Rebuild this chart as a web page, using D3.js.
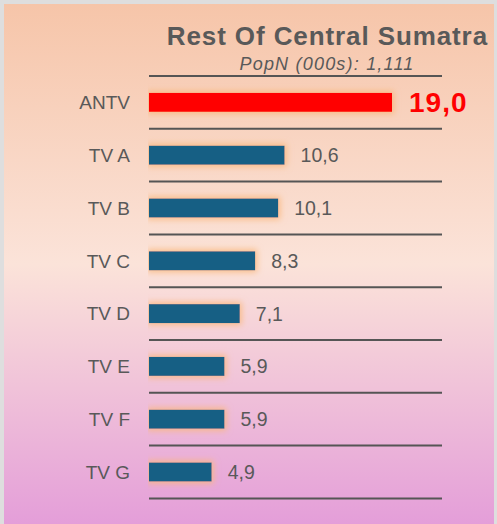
<!DOCTYPE html>
<html>
<head>
<meta charset="utf-8">
<script src="https://cdn.jsdelivr.net/npm/d3@7"></script>
<style>
  body { margin: 0; padding: 0; background: #fff; }
  svg { display: block; }
</style>
</head>
<body>
<div id="chart"></div>
<script>
// data
const categories = ["ANTV", "TV A", "TV B", "TV C", "TV D", "TV E", "TV F", "TV G"];
const values = [19.0, 10.6, 10.1, 8.3, 7.1, 5.9, 5.9, 4.9];
const highlight = "ANTV";
const title = "Rest Of Central Sumatra";
const subtitle = "PopN (000s): 1,111";

const data = categories.map((c, i) => ({ name: c, value: values[i] }));

// size
const width = 497;
const height = 524;
const plot = { left: 149, right: 442, top: 76, bottom: 498.4 };
const fmt = (v) => v.toFixed(1).replace(".", ",");
const textColor = "#595959";
const font = "'Liberation Sans', Arial, sans-serif";

const svg = d3.select("#chart").append("svg")
  .attr("width", width)
  .attr("height", height);

const defs = svg.append("defs");

// background gradient
const grad = defs.append("linearGradient")
  .attr("id", "bg")
  .attr("x1", 0).attr("y1", 0).attr("x2", 0).attr("y2", 1);
grad.append("stop").attr("offset", "0%").attr("stop-color", "#f6c5a9");
grad.append("stop").attr("offset", "50%").attr("stop-color", "#fbe3d9");
grad.append("stop").attr("offset", "100%").attr("stop-color", "#e49ed9");

// glow around bars
const glow = defs.append("filter")
  .attr("id", "glow")
  .attr("x", "-20%").attr("y", "-100%")
  .attr("width", "140%").attr("height", "300%");
glow.append("feMorphology")
  .attr("in", "SourceAlpha")
  .attr("operator", "dilate")
  .attr("radius", 1.5)
  .attr("result", "grow");
glow.append("feGaussianBlur")
  .attr("in", "grow")
  .attr("stdDeviation", 3)
  .attr("result", "blur");
glow.append("feFlood")
  .attr("flood-color", "#f9b77c")
  .attr("flood-opacity", 0.85);
glow.append("feComposite")
  .attr("in2", "blur")
  .attr("operator", "in")
  .attr("result", "shadow");
const merge = glow.append("feMerge");
merge.append("feMergeNode").attr("in", "shadow");
merge.append("feMergeNode").attr("in", "SourceGraphic");

defs.append("clipPath").attr("id", "barclip")
  .append("rect")
  .attr("x", plot.left - 1).attr("y", 0)
  .attr("width", width).attr("height", height);

// frame + panel
svg.append("rect")
  .attr("width", width).attr("height", height)
  .attr("fill", "#dedede");
svg.append("rect")
  .attr("x", 4).attr("y", 4)
  .attr("width", 490).attr("height", height - 4)
  .attr("fill", "url(#bg)");

// scales
const xScale = d3.scaleLinear()
  .domain([0, 19])
  .range([plot.left, 392]);

const yScale = d3.scaleBand()
  .domain(categories)
  .range([plot.top, plot.bottom])
  .paddingInner(0.64)
  .paddingOuter(0.32);

const step = yScale.step();

// title
svg.append("text")
  .attr("x", 488).attr("y", 45)
  .attr("text-anchor", "end")
  .attr("font-family", font)
  .attr("font-weight", "bold")
  .attr("font-size", 26)
  .attr("letter-spacing", 0.9)
  .attr("fill", textColor)
  .text(title);

svg.append("text")
  .attr("x", 327).attr("y", 70)
  .attr("text-anchor", "middle")
  .attr("font-family", font)
  .attr("font-style", "italic")
  .attr("font-size", 18)
  .attr("letter-spacing", 1.2)
  .attr("fill", textColor)
  .text(subtitle);

// separator lines
svg.append("g")
  .selectAll("line")
  .data(d3.range(categories.length + 1))
  .join("line")
  .attr("x1", plot.left)
  .attr("x2", plot.right)
  .attr("y1", (i) => plot.top + i * step)
  .attr("y2", (i) => plot.top + i * step)
  .attr("stroke", "#555")
  .attr("stroke-width", 2);

// bars
svg.append("g")
  .attr("clip-path", "url(#barclip)")
  .selectAll("rect")
  .data(data)
  .join("rect")
  .attr("x", xScale(0))
  .attr("y", (d) => yScale(d.name))
  .attr("width", (d) => xScale(d.value) - xScale(0))
  .attr("height", yScale.bandwidth())
  .attr("fill", (d) => (d.name == highlight ? "#ff0000" : "#175f84"))
  .attr("filter", "url(#glow)");

// category labels
svg.append("g")
  .selectAll("text")
  .data(data)
  .join("text")
  .attr("x", 130)
  .attr("y", (d) => yScale(d.name) + yScale.bandwidth() / 2)
  .attr("dy", "0.36em")
  .attr("text-anchor", "end")
  .attr("font-family", font)
  .attr("font-size", 19)
  .attr("fill", textColor)
  .text((d) => d.name);

// value labels
svg.append("g")
  .selectAll("text")
  .data(data)
  .join("text")
  .attr("x", (d) => xScale(d.value) + (d.name == highlight ? 17 : 16))
  .attr("y", (d) => yScale(d.name) + yScale.bandwidth() / 2)
  .attr("dy", "0.36em")
  .attr("font-family", font)
  .attr("font-size", (d) => (d.name == highlight ? 28 : 19.5))
  .attr("letter-spacing", (d) => (d.name == highlight ? 1 : 0))
  .attr("font-weight", (d) => (d.name == highlight ? "bold" : "normal"))
  .attr("fill", (d) => (d.name == highlight ? "#ff0000" : textColor))
  .text((d) => fmt(d.value));
</script>
</body>
</html>
